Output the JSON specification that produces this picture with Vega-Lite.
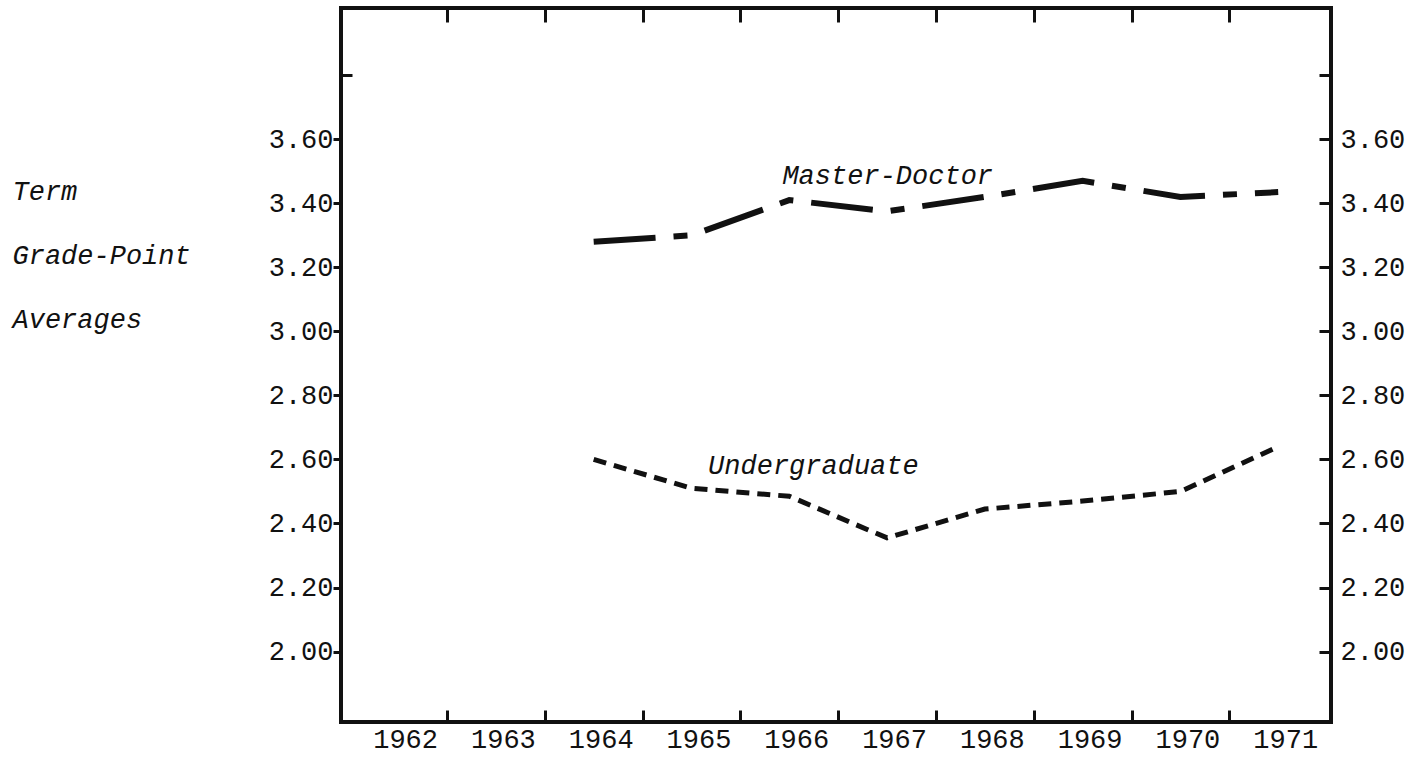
{
  "$schema": "https://vega.github.io/schema/vega-lite/v6.json",
  "width": 990,
  "height": 714,
  "autosize": {"type": "none"},
  "padding": {"left": 341, "top": 8, "right": 87, "bottom": 35},
  "background": "white",
  "config": {
    "view": {"stroke": "#111", "strokeWidth": 4},
    "axis": {
      "grid": false,
      "domain": false,
      "labelFont": "Liberation Mono",
      "labelFontSize": 27,
      "labelColor": "#111",
      "labelFlush": false,
      "labelOverlap": false,
      "labelBound": false,
      "tickColor": "#111",
      "tickWidth": 3,
      "titleFont": "Liberation Mono"
    }
  },
  "datasets": {
    "series": [
      {"year": 1964, "gpa": 3.28, "group": "Master-Doctor"},
      {"year": 1965, "gpa": 3.30, "group": "Master-Doctor"},
      {"year": 1966, "gpa": 3.41, "group": "Master-Doctor"},
      {"year": 1967, "gpa": 3.375, "group": "Master-Doctor"},
      {"year": 1968, "gpa": 3.42, "group": "Master-Doctor"},
      {"year": 1969, "gpa": 3.47, "group": "Master-Doctor"},
      {"year": 1970, "gpa": 3.42, "group": "Master-Doctor"},
      {"year": 1971, "gpa": 3.435, "group": "Master-Doctor"},
      {"year": 1964, "gpa": 2.60, "group": "Undergraduate"},
      {"year": 1965, "gpa": 2.51, "group": "Undergraduate"},
      {"year": 1966, "gpa": 2.485, "group": "Undergraduate"},
      {"year": 1967, "gpa": 2.355, "group": "Undergraduate"},
      {"year": 1968, "gpa": 2.445, "group": "Undergraduate"},
      {"year": 1969, "gpa": 2.47, "group": "Undergraduate"},
      {"year": 1970, "gpa": 2.50, "group": "Undergraduate"},
      {"year": 1971, "gpa": 2.64, "group": "Undergraduate"}
    ],
    "notes": [
      {"label": "Master-Doctor", "year": 1965.93, "gpa": 3.485},
      {"label": "Undergraduate", "year": 1965.17, "gpa": 2.578}
    ]
  },
  "resolve": {"axis": {"x": "independent", "y": "independent"}},
  "layer": [
    {
      "data": {"name": "series"},
      "transform": [{"filter": "datum.group === 'Master-Doctor'"}],
      "mark": {"type": "line", "color": "#111", "strokeWidth": 6, "strokeDash": [62, 18, 14, 18]},
      "encoding": {
        "x": {
          "field": "year", "type": "quantitative",
          "scale": {"domain": [1961.416, 1971.54], "nice": false, "zero": false},
          "axis": null
        },
        "y": {
          "field": "gpa", "type": "quantitative",
          "scale": {"domain": [1.78, 4.01], "nice": false, "zero": false},
          "axis": {
            "orient": "left", "values": [2.0, 2.2, 2.4, 2.6, 2.8, 3.0, 3.2, 3.4, 3.6], "format": ".2f",
            "tickSize": 8, "labelPadding": 0,
            "title": ["Term", "Grade-Point", "Averages"],
            "titleAngle": 0, "titleAlign": "left", "titleBaseline": "alphabetic",
            "titleX": -329, "titleY": 191, "titleFontSize": 27, "titleFontStyle": "italic",
            "titleFontWeight": "normal", "titleLineHeight": 64, "titleColor": "#111"
          }
        }
      }
    },
    {
      "data": {"name": "series"},
      "transform": [{"filter": "datum.group === 'Undergraduate'"}],
      "mark": {"type": "line", "color": "#111", "strokeWidth": 5, "strokeDash": [13, 8]},
      "encoding": {
        "x": {
          "field": "year", "type": "quantitative",
          "scale": {"domain": [1961.416, 1971.54], "nice": false, "zero": false},
          "axis": {"orient": "bottom", "values": [1962.5, 1963.5, 1964.5, 1965.5, 1966.5, 1967.5, 1968.5, 1969.5, 1970.5], "labels": false, "tickSize": 12, "offset": -12, "title": null}
        },
        "y": {
          "field": "gpa", "type": "quantitative",
          "scale": {"domain": [1.78, 4.01], "nice": false, "zero": false},
          "axis": {"orient": "right", "values": [2.0, 2.2, 2.4, 2.6, 2.8, 3.0, 3.2, 3.4, 3.6, 3.8], "labels": false, "tickSize": 12, "offset": -12, "title": null}
        }
      }
    },
    {
      "data": {"name": "notes"},
      "transform": [{"filter": "datum.label === 'Master-Doctor'"}],
      "mark": {"type": "text", "align": "left", "baseline": "middle", "font": "Liberation Mono", "fontSize": 27, "fontStyle": "italic", "color": "#111"},
      "encoding": {
        "x": {
          "field": "year", "type": "quantitative",
          "scale": {"domain": [1961.416, 1971.54], "nice": false, "zero": false},
          "axis": {"orient": "bottom", "values": [1962, 1963, 1964, 1965, 1966, 1967, 1968, 1969, 1970, 1971], "format": "d", "ticks": false, "labelPadding": 4, "labelOffset": 7, "title": null}
        },
        "y": {
          "field": "gpa", "type": "quantitative",
          "scale": {"domain": [1.78, 4.01], "nice": false, "zero": false},
          "axis": {"orient": "left", "values": [3.8], "labels": false, "tickSize": 11, "offset": -11, "title": null}
        },
        "text": {"field": "label"}
      }
    },
    {
      "data": {"name": "notes"},
      "transform": [{"filter": "datum.label === 'Undergraduate'"}],
      "mark": {"type": "text", "align": "left", "baseline": "middle", "font": "Liberation Mono", "fontSize": 27, "fontStyle": "italic", "color": "#111"},
      "encoding": {
        "x": {
          "field": "year", "type": "quantitative",
          "scale": {"domain": [1961.416, 1971.54], "nice": false, "zero": false},
          "axis": {"orient": "top", "values": [1962.5, 1963.5, 1964.5, 1965.5, 1966.5, 1967.5, 1968.5, 1969.5, 1970.5], "labels": false, "tickColor": "#111", "tickWidth": 3, "tickSize": -14, "zindex": 1, "title": null}
        },
        "y": {
          "field": "gpa", "type": "quantitative",
          "scale": {"domain": [1.78, 4.01], "nice": false, "zero": false},
          "axis": {"orient": "right", "values": [2.0, 2.2, 2.4, 2.6, 2.8, 3.0, 3.2, 3.4, 3.6], "format": ".2f", "ticks": false, "labelPadding": 9, "title": null}
        },
        "text": {"field": "label"}
      }
    }
  ]
}
